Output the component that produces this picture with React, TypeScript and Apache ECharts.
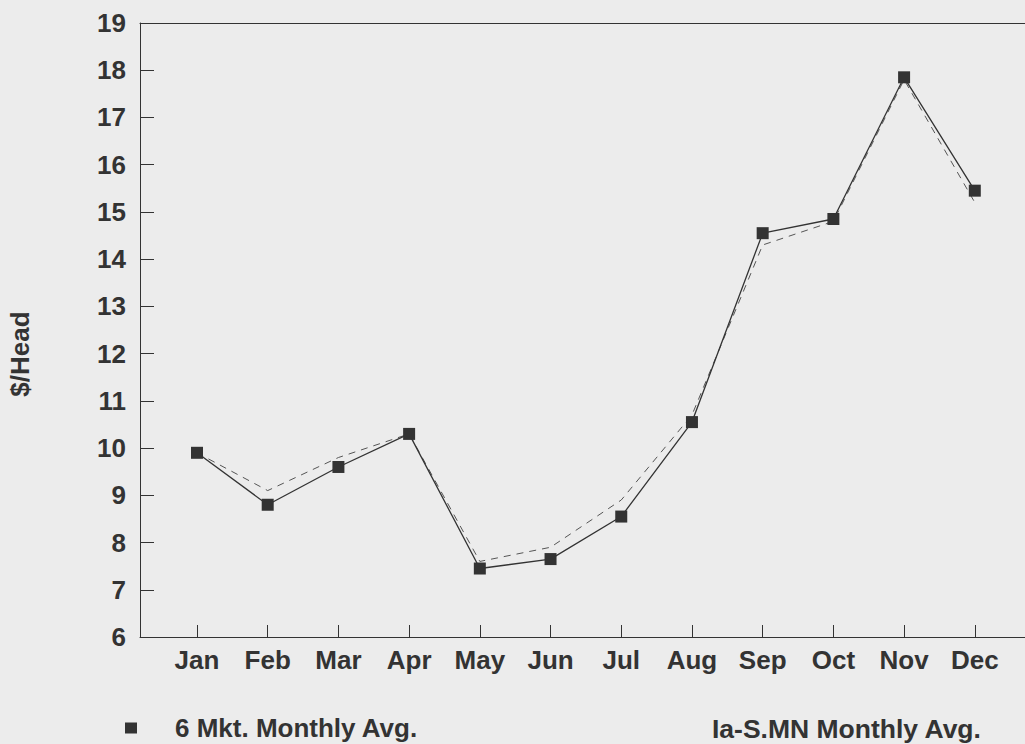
import React, { useEffect, useRef } from "react";
import * as echarts from "echarts";

const months = ["Jan", "Feb", "Mar", "Apr", "May", "Jun", "Jul", "Aug", "Sep", "Oct", "Nov", "Dec"];
const mktAvg = [9.9, 8.8, 9.6, 10.3, 7.45, 7.65, 8.55, 10.55, 14.55, 14.85, 17.85, 15.45];
const iaAvg = [9.9, 9.1, 9.8, 10.3, 7.6, 7.9, 8.9, 10.7, 14.3, 14.8, 17.8, 15.2];
const yTicks = [6, 19, 1];
const seriesNames = ["6 Mkt. Monthly Avg.", "Ia-S.MN Monthly Avg."];

const FONT = "'Liberation Sans', Arial, sans-serif";
const INK = "#333333";

export default function App() {
  const ref = useRef<HTMLDivElement>(null);
  useEffect(() => {
    if (!ref.current) return;
    const chart = echarts.init(ref.current, null, { renderer: "svg" });
    const idx = months.map((_, i) => i + 1);
    const xMin = 0.194;
    const xMax = 12.71;
    chart.setOption({
      animation: false,
      backgroundColor: "#ececec",
      textStyle: { fontFamily: FONT },
      grid: {
        left: 140,
        right: 0,
        top: 23,
        bottom: 107,
        show: false,
      },
      legend: [
        {
          data: [seriesNames[0]],
          left: 120,
          top: 710,
          icon: "rect",
          itemWidth: 12,
          itemHeight: 11,
          textStyle: { fontSize: 26, fontWeight: "bold", color: INK, fontFamily: FONT, padding: [0, 0, 0, 33] },
        },
        {
          data: [{ name: seriesNames[1], itemStyle: { opacity: 0 }, lineStyle: { opacity: 0 } }],
          left: 700,
          top: 710,
          itemWidth: 1,
          itemHeight: 1,
          textStyle: { fontSize: 26.5, fontWeight: "bold", color: INK, fontFamily: FONT },
        },
      ],
      xAxis: [
        {
          type: "value",
          min: xMin,
          max: xMax,
          splitLine: { show: false },
          axisLine: { show: true, onZero: false, lineStyle: { color: INK, width: 1 } },
          axisTick: { show: true, inside: true, length: 12, customValues: idx, lineStyle: { color: INK } },
          axisLabel: {
            customValues: idx,
            formatter: (v: number) => months[Math.round(v) - 1] || "",
            fontSize: 26,
            fontWeight: "bold",
            color: INK,
            fontFamily: FONT,
            margin: 10,
          },
        },
        {
          type: "value",
          position: "top",
          min: xMin,
          max: xMax,
          splitLine: { show: false },
          axisLine: { show: true, onZero: false, lineStyle: { color: INK, width: 1 } },
          axisTick: { show: false },
          axisLabel: { show: false },
        },
      ],
      yAxis: {
        type: "value",
        min: yTicks[0],
        max: yTicks[1],
        interval: yTicks[2],
        splitLine: { show: false },
        axisLine: { show: true, lineStyle: { color: INK, width: 1 } },
        axisTick: { show: true, inside: true, length: 14, lineStyle: { color: INK } },
        axisLabel: { fontSize: 26, fontWeight: "bold", color: INK, fontFamily: FONT, margin: 14 },
      },
      graphic: [
        {
          type: "text",
          x: 20,
          y: 354,
          rotation: Math.PI / 2,
          style: {
            text: "$/Head",
            fontSize: 26,
            fontWeight: "bold",
            fontFamily: FONT,
            fill: INK,
            align: "center",
            verticalAlign: "middle",
          },
        },
      ],
      series: [
        {
          name: seriesNames[1],
          type: "line",
          data: iaAvg.map((v, i) => [idx[i], v]),
          symbol: "none",
          lineStyle: { color: "#555555", width: 1, type: [7, 6] },
          itemStyle: { color: "#555555" },
          z: 2,
        },
        {
          name: seriesNames[0],
          type: "line",
          data: mktAvg.map((v, i) => [idx[i], v]),
          symbol: "rect",
          symbolSize: 12,
          lineStyle: { color: INK, width: 1.3 },
          itemStyle: { color: INK },
          z: 3,
        },
      ],
    });
    return () => chart.dispose();
  }, []);
  return (
    <div
      ref={ref}
      style={{ position: "absolute", left: 0, top: 0, width: 1025, height: 744 }}
    />
  );
}
